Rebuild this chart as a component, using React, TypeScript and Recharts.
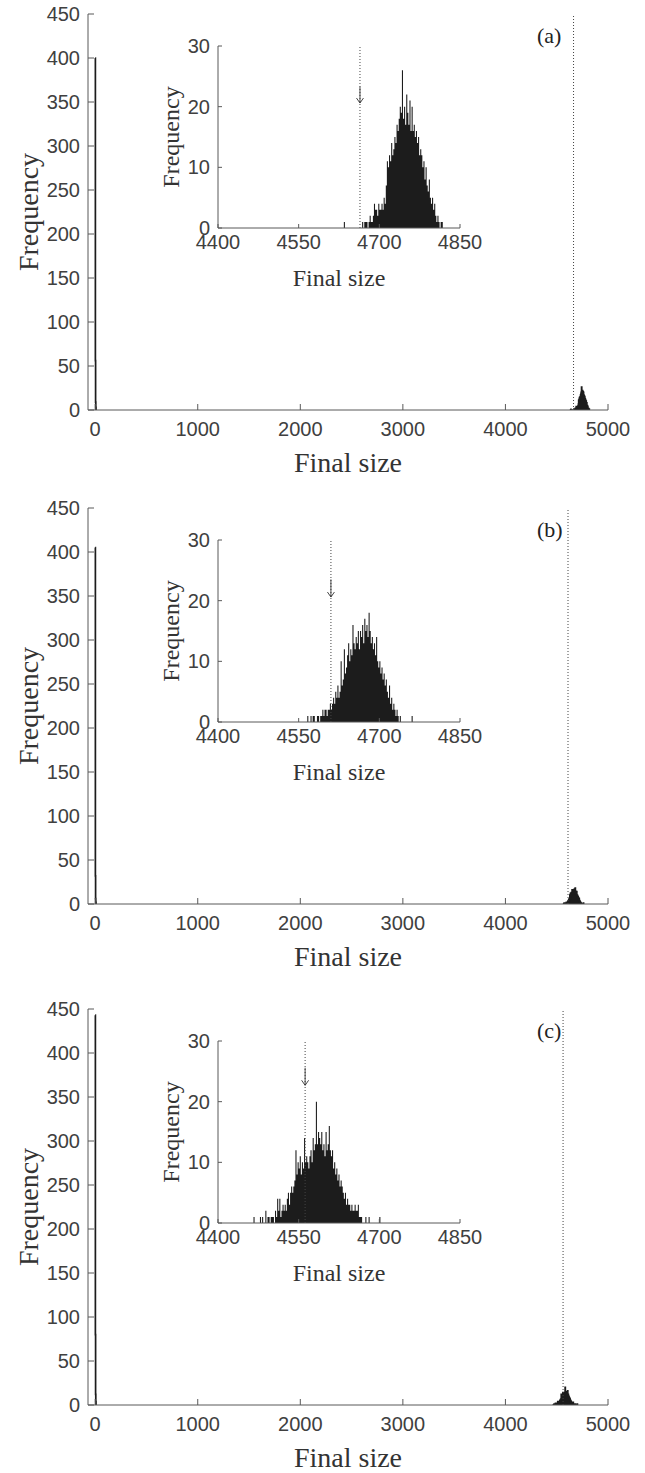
import React from "react";
import { AreaChart, Area, XAxis, YAxis, ReferenceLine, ReferenceDot, Label } from "recharts";

const BIN = 2;

const mainXTicks = [0, 1000, 2000, 3000, 4000, 5000];
const mainYTicks = [0, 50, 100, 150, 200, 250, 300, 350, 400, 450];
const insetXTicks = [4400, 4550, 4700, 4850];
const insetYTicks = [0, 10, 20, 30];

// small outbreaks, bins starting at 0
const minorA = [400, 56, 9, 3];
const minorB = [405, 32, 6, 2];
const minorC = [443, 80, 12, 4];

// large outbreaks: left edge of first bin, then counts per bin
const majorStartA = 4634;
const majorA = [
  1, 0, 0, 0, 0, 0, 0, 0, 0, 0, 0, 0, 0, 0, 0, 0, 0,
  1, 0, 1, 1, 1, 0, 1, 2, 1, 1, 2, 4, 3, 3, 2, 4, 3, 3, 4, 3, 5, 4, 7, 11,
  10, 12, 11, 14, 12, 13, 15, 14, 17, 16, 18, 20, 19, 26, 18, 20, 17, 22, 19, 17,
  21, 16, 20, 16, 17, 15, 16, 14, 15, 12, 13, 12, 10, 11, 8, 10, 7, 6, 8, 5,
  4, 5, 3, 4, 2, 1, 2, 1, 0, 1, 1,
];
const majorStartB = 4566;
const majorB = [
  1, 0, 0, 1, 0, 1, 1, 0, 0, 1, 1, 0, 1, 1, 2, 1, 2, 2, 1, 2, 2, 3, 2, 3, 4,
  3, 5, 4, 6, 4, 5, 10, 6, 7, 12, 8, 9, 11, 13, 10, 12, 11, 16, 13, 12, 14, 13,
  15, 12, 15, 14, 16, 13, 17, 15, 16, 14, 18, 15, 13, 14, 12, 13, 11, 14, 10, 9,
  10, 8, 9, 7, 8, 6, 7, 5, 4, 6, 3, 4, 2, 3, 2, 1, 2, 1, 0, 1,
  0, 0, 0, 0, 0, 0, 0, 0, 0, 0, 1,
];
const majorStartC = 4466;
const majorC = [
  1, 0, 0, 0, 0, 0, 1, 0, 1, 0, 0, 2, 0, 1, 1, 0, 1, 1, 1, 0, 2, 1, 4, 2, 4,
  1, 2, 3, 2, 3, 2, 4, 5, 3, 5, 6, 5, 6, 7, 12, 8, 10, 9, 11, 8, 10, 9, 14, 10,
  11, 10, 9, 11, 12, 10, 14, 12, 13, 20, 13, 15, 14, 13, 15, 12, 13, 11, 15, 12,
  13, 16, 12, 11, 12, 9, 10, 8, 9, 7, 8, 6, 7, 6, 5, 4, 5, 3, 4, 3, 3, 2, 3, 2,
  2, 3, 2, 2, 3, 1, 1, 1, 0, 0, 0, 1, 0, 0, 1, 0, 0, 0, 0, 0, 0, 0, 0, 0, 1,
];

// threshold marked by the dotted line
const cutA = 4664;
const cutB = 4610;
const cutC = 4562;

const BAR = "#1c1c1c";
const AXIS = "#595959";
const TICK = "#404040";
const LABEL = "#333333";
const SANS = "'Liberation Sans', Arial, sans-serif";
const SERIF = "'Liberation Serif', 'Times New Roman', serif";

type Step = { x: number; n: number | null };

function steps(start: number, counts: number[]): Step[] {
  const out: Step[] = counts.map((n, i) => ({ x: start + i * BIN, n }));
  out.push({ x: start + counts.length * BIN, n: 0 });
  return out;
}

const arrowHead = (props: any) => {
  const { cx, cy } = props;
  return (
    <path
      d={`M${cx - 3.5},${cy - 5} L${cx},${cy} L${cx + 3.5},${cy - 5}`}
      fill="none"
      stroke="#333"
      strokeWidth={0.9}
    />
  );
};

interface PanelProps {
  top: number;
  tag: string;
  minor: number[];
  majorStart: number;
  major: number[];
  cut: number;
  arrowFrom: number;
  arrowTo: number;
}

function Panel({ top, tag, minor, majorStart, major, cut, arrowFrom, arrowTo }: PanelProps) {
  const mainData: Step[] = [...steps(0, minor), { x: 500, n: null }, ...steps(majorStart, major)];
  const insetData = steps(majorStart, major);
  const tickStyle = { fill: TICK, fontSize: 20, fontFamily: SANS };

  return (
    <div style={{ position: "absolute", left: 0, top, width: 645, height: 480 }}>
      <AreaChart width={645} height={480} data={mainData} margin={{ top: 14, right: 37, bottom: 0, left: 0 }}>
        <XAxis
          xAxisId="b"
          type="number"
          dataKey="x"
          domain={[-70, 5000]}
          allowDataOverflow
          ticks={mainXTicks}
          interval={0}
          height={70}
          tickSize={-6}
          tickMargin={18}
          axisLine={{ stroke: AXIS }}
          tickLine={{ stroke: AXIS }}
          tick={tickStyle}
        >
          <Label value="Final size" position="insideBottom" offset={8} style={{ fontFamily: SERIF, fontSize: 28, fill: LABEL }} />
        </XAxis>
        <XAxis
          xAxisId="t"
          orientation="top"
          type="number"
          domain={[-70, 5000]}
          allowDataOverflow
          ticks={mainXTicks}
          interval={0}
          height={0}
          tickSize={-6}
          axisLine={{ stroke: AXIS }}
          tickLine={{ stroke: AXIS }}
          tick={false}
        />
        <YAxis
          yAxisId="l"
          type="number"
          domain={[0, 450]}
          allowDataOverflow
          ticks={mainYTicks}
          interval={0}
          width={88}
          tickSize={-6}
          tickMargin={14}
          axisLine={{ stroke: AXIS }}
          tickLine={{ stroke: AXIS }}
          tick={tickStyle}
        >
          <Label
            value="Frequency"
            angle={-90}
            position="insideLeft"
            offset={28}
            style={{ fontFamily: SERIF, fontSize: 28, fill: LABEL, textAnchor: "middle" }}
          />
        </YAxis>
        <YAxis
          yAxisId="r"
          orientation="right"
          type="number"
          domain={[0, 450]}
          allowDataOverflow
          ticks={mainYTicks}
          interval={0}
          width={0}
          tickSize={-6}
          axisLine={{ stroke: AXIS }}
          tickLine={{ stroke: AXIS }}
          tick={false}
        />
        <ReferenceLine xAxisId="b" yAxisId="l" x={cut} stroke="#444" strokeDasharray="1 2" />
        <Area
          xAxisId="b"
          yAxisId="l"
          type="stepAfter"
          dataKey="n"
          stroke={BAR}
          strokeWidth={1.7}
          fill={BAR}
          fillOpacity={1}
          dot={false}
          activeDot={false}
          isAnimationActive={false}
        />
      </AreaChart>

      <div style={{ position: "absolute", left: 140, top: 0 }}>
        <AreaChart width={370} height={310} data={insetData} margin={{ top: 46, right: 50, bottom: 12, left: 0 }}>
          <XAxis
            xAxisId="b"
            type="number"
            dataKey="x"
            domain={[4400, 4850]}
            allowDataOverflow
            ticks={insetXTicks}
            interval={0}
            height={70}
            tickSize={-4}
            tickMargin={11}
            axisLine={{ stroke: AXIS }}
            tickLine={{ stroke: AXIS }}
            tick={tickStyle}
          >
            <Label value="Final size" position="insideBottom" offset={12} style={{ fontFamily: SERIF, fontSize: 24, fill: LABEL }} />
          </XAxis>
          <XAxis
            xAxisId="t"
            orientation="top"
            type="number"
            domain={[4400, 4850]}
            allowDataOverflow
            ticks={insetXTicks}
            interval={0}
            height={0}
            tickSize={-4}
            axisLine={{ stroke: AXIS }}
            tickLine={{ stroke: AXIS }}
            tick={false}
          />
          <YAxis
            yAxisId="l"
            type="number"
            domain={[0, 30]}
            allowDataOverflow
            ticks={insetYTicks}
            interval={0}
            width={78}
            tickSize={-4}
            tickMargin={12}
            axisLine={{ stroke: AXIS }}
            tickLine={{ stroke: AXIS }}
            tick={tickStyle}
          >
            <Label
              value="Frequency"
              angle={-90}
              position="insideLeft"
              offset={30}
              style={{ fontFamily: SERIF, fontSize: 24, fill: LABEL, textAnchor: "middle" }}
            />
          </YAxis>
          <YAxis
            yAxisId="r"
            orientation="right"
            type="number"
            domain={[0, 30]}
            allowDataOverflow
            ticks={insetYTicks}
            interval={0}
            width={0}
            tickSize={-4}
            axisLine={{ stroke: AXIS }}
            tickLine={{ stroke: AXIS }}
            tick={false}
          />
          <ReferenceLine xAxisId="b" yAxisId="l" x={cut} stroke="#444" strokeDasharray="1 2" />
          <Area
            xAxisId="b"
            yAxisId="l"
            type="stepAfter"
            dataKey="n"
            stroke="none"
            fill={BAR}
            fillOpacity={1}
            dot={false}
            activeDot={false}
            isAnimationActive={false}
          />
          <ReferenceLine
            xAxisId="b"
            yAxisId="l"
            segment={[{ x: cut, y: arrowFrom }, { x: cut, y: arrowTo }]}
            stroke="#333"
            strokeWidth={0.9}
          />
          <ReferenceDot xAxisId="b" yAxisId="l" x={cut} y={arrowTo} r={0} shape={arrowHead} />
        </AreaChart>
      </div>

      <div
        style={{
          position: "absolute",
          left: 537,
          top: 24,
          fontFamily: SERIF,
          fontSize: 22,
          color: "#222",
          lineHeight: "24px",
        }}
      >
        {tag}
      </div>
    </div>
  );
}

export default function App() {
  return (
    <div style={{ position: "absolute", left: 0, top: 0, width: 645, height: 1473, background: "#fff" }}>
      <Panel top={0} tag="(a)" minor={minorA} majorStart={majorStartA} major={majorA} cut={cutA} arrowFrom={23.3} arrowTo={20.6} />
      <Panel top={494} tag="(b)" minor={minorB} majorStart={majorStartB} major={majorB} cut={cutB} arrowFrom={23.5} arrowTo={20.6} />
      <Panel top={995} tag="(c)" minor={minorC} majorStart={majorStartC} major={majorC} cut={cutC} arrowFrom={25.6} arrowTo={22.7} />
    </div>
  );
}
